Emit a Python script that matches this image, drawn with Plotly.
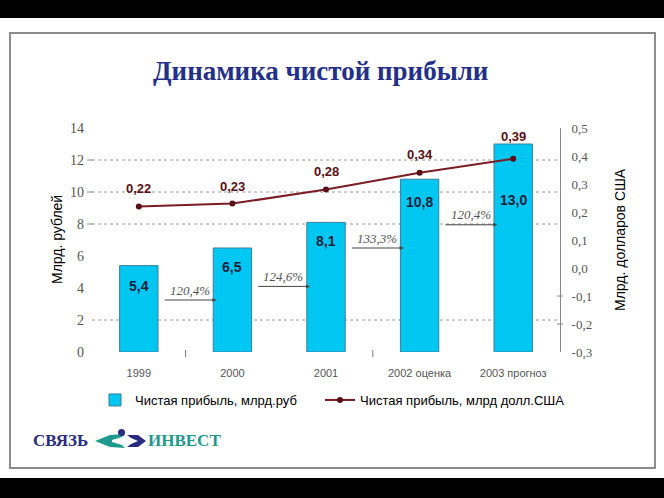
import plotly.graph_objects as go

# ---------------- data ----------------
categories = ["1999", "2000", "2001", "2002 оценка", "2003 прогноз"]
profit_rub = [5.4, 6.5, 8.1, 10.8, 13.0]
profit_usd = [0.22, 0.23, 0.28, 0.34, 0.39]
rub_labels = ["5,4", "6,5", "8,1", "10,8", "13,0"]
usd_labels = ["0,22", "0,23", "0,28", "0,34", "0,39"]
growth_labels = ["120,4%", "124,6%", "133,3%", "120,4%"]
left_ticks = [0, 2, 4, 6, 8, 10, 12, 14]
right_ticks = [0.5, 0.4, 0.3, 0.2, 0.1, 0.0, -0.1, -0.2, -0.3]
right_ticktext = ["0,5", "0,4", "0,3", "0,2", "0,1", "0,0", "-0,1", "-0,2", "-0,3"]
grid_vals = [2, 8, 10, 12]
left_marks = [8, 10, 12]
right_marks = [-0.1, -0.2]

# ---------------- layout geometry ----------------
W, H = 664, 498
L, R, T, B = 92, 104, 128, 146
PW, PH = W - L - R, H - T - B


def px(x):
    return (x - L) / PW


def py(y):
    return (H - B - y) / PH


arrow_levels = [3.25, 4.1, 6.5, 7.95]  # arrow heights in bar units
arrow_start, arrow_end = 0.26, 0.83
rub_label_shift = [-20, -19, -19, -23, -56]
usd_label_shift = [18, 17, 18, 18, 22]

SERIF = "Liberation Serif"
SANS = "Liberation Sans"

fig = go.Figure()

fig.add_trace(go.Bar(
    x=list(range(len(categories))), y=profit_rub, yaxis="y2",
    name="Чистая прибыль, млрд.руб", legend="legend",
    marker=dict(color="#00C6F2", line=dict(color="#3c7f98", width=1)),
    width=0.41,
))
fig.add_trace(go.Scatter(
    x=list(range(len(categories))), y=profit_usd, yaxis="y3",
    name="Чистая прибыль, млрд долл.США", legend="legend2",
    mode="lines+markers",
    line=dict(color="#7a1c22", width=2),
    marker=dict(color="#5a0f16", size=6),
))

annotations = []
for i, (v, t) in enumerate(zip(profit_rub, rub_labels)):
    annotations.append(dict(x=i, y=v, xref="x", yref="y2", text=f"<b>{t}</b>",
                            showarrow=False, yshift=rub_label_shift[i],
                            font=dict(family=SANS, size=14, color="#1a1f3c")))
for i, (v, t) in enumerate(zip(profit_usd, usd_labels)):
    annotations.append(dict(x=i, y=v, xref="x", yref="y3", text=f"<b>{t}</b>",
                            showarrow=False, yshift=usd_label_shift[i],
                            font=dict(family=SANS, size=13, color="#5a0f16")))
for i, (lvl, t) in enumerate(zip(arrow_levels, growth_labels)):
    annotations.append(dict(x=i + arrow_end, y=lvl, ax=i + arrow_start, ay=lvl,
                            xref="x", yref="y2", axref="x", ayref="y2",
                            text="", showarrow=True, arrowhead=2, arrowsize=0.8,
                            arrowwidth=1, arrowcolor="#444444"))
    annotations.append(dict(x=i + (arrow_start + arrow_end) / 2, y=lvl,
                            xref="x", yref="y2", text=f"<i>{t}</i>",
                            showarrow=False, yshift=10,
                            font=dict(family=SERIF, size=13, color="#555555")))


def paper_text(x, y, text, font, angle=0, xanchor="center"):
    return dict(x=px(x), y=py(y), xref="paper", yref="paper", text=text,
                textangle=angle, showarrow=False, xanchor=xanchor, yanchor="middle",
                font=font)


annotations += [
    paper_text(320, 71, "<b>Динамика чистой прибыли</b>",
               dict(family=SERIF, size=27, color="#23308a")),
    paper_text(57, 240, "Млрд. рублей", dict(family=SANS, size=14, color="#000000"), -90),
    paper_text(620, 240, "Млрд. долларов США", dict(family=SANS, size=14, color="#000000"), -90),
    paper_text(90, 440, "<b>СВЯЗЬ</b>", dict(family=SERIF, size=17, color="#2b2c80"),
               xanchor="right"),
    paper_text(146, 440, "<b>ИНВЕСТ</b>", dict(family=SERIF, size=17, color="#1e9a8c"),
               xanchor="left"),
]


def poly(points):
    return "M " + " L ".join(f"{px(a):.5f},{py(b):.5f}" for a, b in points) + " Z"


shapes = [
    dict(type="rect", xref="paper", yref="paper", x0=px(-5), x1=px(W + 5),
         y0=py(-5), y1=py(18), fillcolor="black", line=dict(width=0), layer="above"),
    dict(type="rect", xref="paper", yref="paper", x0=px(-5), x1=px(W + 5),
         y0=py(478), y1=py(H + 5), fillcolor="black", line=dict(width=0), layer="above"),
    dict(type="rect", xref="paper", yref="paper", x0=px(10), x1=px(655),
         y0=py(33), y1=py(468), line=dict(color="#8c8c8c", width=2)),
    dict(type="path", xref="paper", yref="paper",
         path=poly([(125, 434), (110, 435), (95, 441), (110, 447), (125, 448),
                    (122, 445), (112, 442), (112, 440), (122, 437)]),
         fillcolor="#1e9a8c", line=dict(width=0)),
    dict(type="path", xref="paper", yref="paper",
         path=poly([(127, 435), (138, 435), (146, 441), (138, 447), (127, 447),
                    (131, 444), (138, 441), (131, 438)]),
         fillcolor="#2b2c80", line=dict(width=0)),
    dict(type="circle", xref="paper", yref="paper", x0=px(118), x1=px(125),
         y0=py(429), y1=py(436), fillcolor="#2b2c80", line=dict(width=0)),
]
for g in grid_vals:
    shapes.append(dict(type="line", xref="paper", yref="y2", x0=0, x1=1, y0=g, y1=g,
                       line=dict(color="#9a9a9a", width=1, dash="dot"), layer="below"))
for g in left_marks:
    shapes.append(dict(type="line", xref="paper", yref="y2", x0=px(87), x1=px(93),
                       y0=g, y1=g, line=dict(color="#888888", width=1)))
for g in right_marks:
    shapes.append(dict(type="line", xref="paper", yref="y3", x0=px(557), x1=px(563),
                       y0=g, y1=g, line=dict(color="#888888", width=1)))
for xv in (0.5, 2.5):
    shapes.append(dict(type="line", xref="x", yref="paper", x0=xv, x1=xv,
                       y0=py(350), y1=py(357), line=dict(color="#777777", width=1)))

legend_font = dict(family=SANS, size=13, color="#000000")
fig.update_layout(
    width=W, height=H,
    margin=dict(l=L, r=R, t=T, b=B),
    paper_bgcolor="white", plot_bgcolor="rgba(0,0,0,0)",
    showlegend=True,
    legend=dict(orientation="h", x=px(95), y=py(400), xanchor="left", yanchor="middle",
                font=legend_font, bgcolor="rgba(0,0,0,0)"),
    legend2=dict(orientation="h", x=px(320), y=py(400), xanchor="left", yanchor="middle",
                 font=legend_font, bgcolor="rgba(0,0,0,0)"),
    xaxis=dict(tickvals=list(range(len(categories))), ticktext=categories,
               range=[-0.5, len(categories) - 0.5], showgrid=False, zeroline=False,
               showline=False, ticks="outside", ticklen=11, tickcolor="rgba(0,0,0,0)",
               tickfont=dict(family=SANS, size=11, color="#555555")),
    yaxis=dict(range=[0, 14], showticklabels=False, showgrid=False,
               zeroline=False, showline=False, ticks=""),
    yaxis2=dict(range=[0, 14], overlaying="y", side="left", tickvals=left_ticks,
                showgrid=False, zeroline=False, showline=False, ticks="",
                ticklabelstandoff=7,
                tickfont=dict(family=SERIF, size=14, color="#555555")),
    yaxis3=dict(range=[-0.3, 0.5], overlaying="y", side="right",
                tickvals=right_ticks, ticktext=right_ticktext,
                showgrid=False, zeroline=False, showline=True, linecolor="#888888",
                linewidth=1, ticks="", ticklabelstandoff=8,
                tickfont=dict(family=SERIF, size=13, color="#555555")),
    annotations=annotations,
    shapes=shapes,
)

fig.write_html("out.html")
